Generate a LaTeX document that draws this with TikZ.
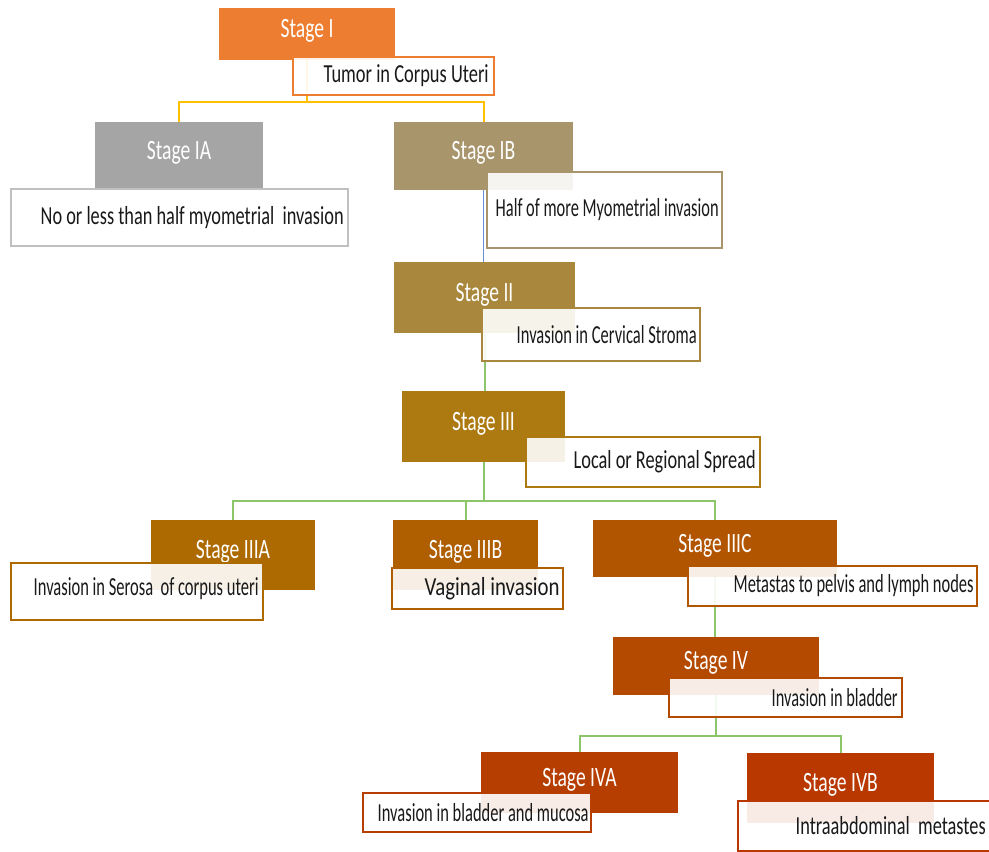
\documentclass[tikz,border=0pt]{standalone}
\usepackage{fontspec}
\setmainfont{Carlito}[FakeStretch=0.7]
\usepackage{graphicx}
\usepackage{tikz}
\usepackage{xcolor}

\definecolor{cI}{HTML}{ED7D31}
\definecolor{cIA}{HTML}{A5A5A5}
\definecolor{cIB}{HTML}{A8956B}
\definecolor{cII}{HTML}{A9873C}
\definecolor{cIII}{HTML}{AD7911}
\definecolor{cIIIA}{HTML}{AD6A00}
\definecolor{cIIIB}{HTML}{AF5E00}
\definecolor{cIIIC}{HTML}{B25500}
\definecolor{cIV}{HTML}{B44A00}
\definecolor{cIVA}{HTML}{B63E00}
\definecolor{cIVB}{HTML}{B83800}
\definecolor{lnyellow}{HTML}{FFC000}
\definecolor{lnblue}{HTML}{6A8FD4}
\definecolor{lngreen}{HTML}{8CC66A}

% description text squeezed to the width it has in the chart
\newcommand{\fitdesc}[2]{\resizebox{#1pt}{\height}{#2}}

\begin{document}
\begin{tikzpicture}[x=1pt,y=-1pt,
  stagebox/.style={rectangle,fill=#1,text=white,inner sep=0pt,
    font=\fontsize{28}{32}\selectfont,text height=18pt,text depth=11pt},
  descbox/.style={rectangle,draw=#1,line width=1.8pt,fill=white,fill opacity=0.9,inner sep=0pt},
  desctext/.style={anchor=east,inner sep=0pt,text=black!90,font=\fontsize{26}{30}\selectfont},
  link/.style={line width=2pt,draw=#1}]
\useasboundingbox (0,0) rectangle (989,852);

% stage boxes
\node [stagebox=cI,minimum width=176pt,minimum height=52pt] (s1) at (307,34) {Stage I};
\node [stagebox=cIA,minimum width=168pt,minimum height=67pt] (s1a) at (179,155.5) {Stage IA};
\node [stagebox=cIB,minimum width=179pt,minimum height=68pt] (s1b) at (483.5,156) {Stage IB};
\node [stagebox=cII,minimum width=181pt,minimum height=71pt] (s2) at (484.5,297.5) {Stage II};
\node [stagebox=cIII,minimum width=163pt,minimum height=71pt] (s3) at (483.5,426.5) {Stage III};
\node [stagebox=cIIIA,minimum width=164pt,minimum height=70pt] (s3a) at (233,555) {Stage IIIA};
\node [stagebox=cIIIB,minimum width=145pt,minimum height=70pt] (s3b) at (465.5,555) {Stage IIIB};
\node [stagebox=cIIIC,minimum width=244pt,minimum height=57pt] (s3c) at (715,548.5) {Stage IIIC};
\node [stagebox=cIV,minimum width=206pt,minimum height=58pt] (s4) at (716,666) {Stage IV};
\node [stagebox=cIVA,minimum width=197pt,minimum height=61pt] (s4a) at (579.5,782.5) {Stage IVA};
\node [stagebox=cIVB,minimum width=187pt,minimum height=70pt] (s4b) at (840.5,788) {Stage IVB};

% connectors
\coordinate (j1) at (307,102);
\coordinate (j3) at (483.5,501);
\coordinate (j4) at (716,736);
\draw [link=lnyellow] (s1.south) -- (j1) -| (s1a.north);
\draw [link=lnyellow] (j1) -| (s1b.north);
\draw [link=lnblue,line width=1.5pt] (s1b.south) -- (s1b.south |- s2.north);
\draw [link=lngreen] (s2.south) -- (s2.south |- s3.north);
\draw [link=lngreen] (s3.south) -- (j3) -| (s3a.north);
\draw [link=lngreen] (j3) -| (s3b.north);
\draw [link=lngreen] (j3) -| (s3c.north);
\draw [link=lngreen] (s3c.south) -- (s3c.south |- s4.north);
\draw [link=lngreen] (s4.south) -- (j4) -| (s4a.north);
\draw [link=lngreen] (j4) -| (s4b.north);

% description boxes
\node [descbox=cI,minimum width=201pt,minimum height=38pt] (d1) at (393.5,76) {};
\node [descbox=cIA!70,minimum width=337pt,minimum height=57pt] (d1a) at (179.5,217.5) {};
\node [descbox=cIB,minimum width=235pt,minimum height=76pt] (d1b) at (604.5,210) {};
\node [descbox=cII,minimum width=218pt,minimum height=53pt] (d2) at (591,334.5) {};
\node [descbox=cIII,minimum width=234pt,minimum height=50pt] (d3) at (643,462) {};
\node [descbox=cIIIA,minimum width=252pt,minimum height=57pt] (d3a) at (137,591.5) {};
\node [descbox=cIIIB,minimum width=171pt,minimum height=41pt] (d3b) at (477.5,588.5) {};
\node [descbox=cIIIC,minimum width=289pt,minimum height=40pt] (d3c) at (832.5,586) {};
\node [descbox=cIV,minimum width=233pt,minimum height=39pt] (d4) at (785.5,697.5) {};
\node [descbox=cIVA,minimum width=228pt,minimum height=39pt] (d4a) at (477,812.5) {};
\node [descbox=cIVB,minimum width=254pt,minimum height=50pt] (d4b) at (865,826) {};

% description texts
\node [desctext] (t1) at ([xshift=-6pt]d1.east) {\fitdesc{165}{Tumor in Corpus Uteri}};
\node [desctext] (t1a) at ([xshift=-5pt]d1a.east) {\fitdesc{303}{No or less than half myometrial\ \ invasion}};
\node [desctext] (t1b) at ([xshift=-4pt]d1b.east) {\fitdesc{223}{Half of more Myometrial invasion}};
\node [desctext] (t2) at ([xshift=-4pt]d2.east) {\fitdesc{180}{Invasion in Cervical Stroma}};
\node [desctext] (t3) at ([xshift=-5pt]d3.east) {\fitdesc{182}{Local or Regional Spread}};
\node [desctext] (t3a) at ([xshift=-5pt,yshift=3pt]d3a.east) {\fitdesc{225}{Invasion in Serosa\ \ of corpus uteri}};
\node [desctext] (t3b) at ([xshift=-4pt]d3b.east) {\fitdesc{135}{Vaginal invasion}};
\node [desctext] (t3c) at ([xshift=-4pt]d3c.east) {\fitdesc{240}{Metastas to pelvis and lymph nodes}};
\node [desctext] (t4) at ([xshift=-5pt]d4.east) {\fitdesc{126}{Invasion in bladder}};
\node [desctext] (t4a) at ([xshift=-3pt]d4a.east) {\fitdesc{211}{Invasion in bladder and mucosa}};
\node [desctext] (t4b) at ([xshift=-7pt]d4b.east) {\fitdesc{190}{Intraabdominal\ \ metastes}};
\end{tikzpicture}
\end{document}
